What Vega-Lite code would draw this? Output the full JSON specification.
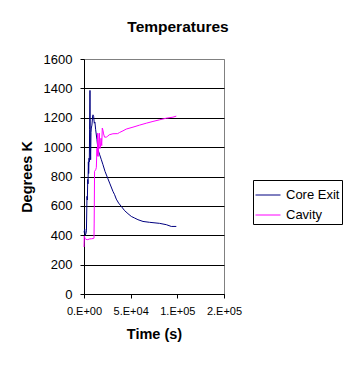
{
  "$schema": "https://vega.github.io/schema/vega-lite/v6.json",
  "autosize": "none",
  "width": 140,
  "height": 235,
  "padding": {"left": 84, "top": 59, "right": 133, "bottom": 86},
  "background": "white",
  "config": {
    "font": "Liberation Sans",
    "view": {"stroke": "#808080", "strokeWidth": 1}
  },
  "title": {
    "text": "Temperatures",
    "font": "Liberation Sans",
    "fontSize": 15.5,
    "fontWeight": "bold",
    "color": "black",
    "anchor": "middle",
    "frame": "group",
    "dx": 24,
    "offset": 18
  },
  "data": {
    "values": [
      {"t": 0, "v": 420, "s": "Core Exit"},
      {"t": 800, "v": 440, "s": "Core Exit"},
      {"t": 1200, "v": 400, "s": "Core Exit"},
      {"t": 2000, "v": 410, "s": "Core Exit"},
      {"t": 2600, "v": 430, "s": "Core Exit"},
      {"t": 3200, "v": 665, "s": "Core Exit"},
      {"t": 3600, "v": 640, "s": "Core Exit"},
      {"t": 4000, "v": 780, "s": "Core Exit"},
      {"t": 4300, "v": 750, "s": "Core Exit"},
      {"t": 4700, "v": 900, "s": "Core Exit"},
      {"t": 5000, "v": 820, "s": "Core Exit"},
      {"t": 5400, "v": 925, "s": "Core Exit"},
      {"t": 5700, "v": 900, "s": "Core Exit"},
      {"t": 6000, "v": 1118, "s": "Core Exit"},
      {"t": 6400, "v": 1386, "s": "Core Exit"},
      {"t": 6800, "v": 1000, "s": "Core Exit"},
      {"t": 7100, "v": 914, "s": "Core Exit"},
      {"t": 7500, "v": 1100, "s": "Core Exit"},
      {"t": 7850, "v": 1130, "s": "Core Exit"},
      {"t": 8500, "v": 1150, "s": "Core Exit"},
      {"t": 9300, "v": 1215, "s": "Core Exit"},
      {"t": 9600, "v": 1220, "s": "Core Exit"},
      {"t": 10300, "v": 1210, "s": "Core Exit"},
      {"t": 11000, "v": 1163, "s": "Core Exit"},
      {"t": 11700, "v": 1170, "s": "Core Exit"},
      {"t": 12500, "v": 1118, "s": "Core Exit"},
      {"t": 13900, "v": 1050, "s": "Core Exit"},
      {"t": 15000, "v": 982, "s": "Core Exit"},
      {"t": 16800, "v": 948, "s": "Core Exit"},
      {"t": 18600, "v": 914, "s": "Core Exit"},
      {"t": 20350, "v": 880, "s": "Core Exit"},
      {"t": 22500, "v": 835, "s": "Core Exit"},
      {"t": 25350, "v": 789, "s": "Core Exit"},
      {"t": 27500, "v": 755, "s": "Core Exit"},
      {"t": 31000, "v": 699, "s": "Core Exit"},
      {"t": 32800, "v": 676, "s": "Core Exit"},
      {"t": 34600, "v": 646, "s": "Core Exit"},
      {"t": 37100, "v": 619, "s": "Core Exit"},
      {"t": 40000, "v": 596, "s": "Core Exit"},
      {"t": 43600, "v": 567, "s": "Core Exit"},
      {"t": 47100, "v": 547, "s": "Core Exit"},
      {"t": 50700, "v": 528, "s": "Core Exit"},
      {"t": 54300, "v": 517, "s": "Core Exit"},
      {"t": 57800, "v": 506, "s": "Core Exit"},
      {"t": 63200, "v": 494, "s": "Core Exit"},
      {"t": 70300, "v": 488, "s": "Core Exit"},
      {"t": 81000, "v": 481, "s": "Core Exit"},
      {"t": 88200, "v": 472, "s": "Core Exit"},
      {"t": 93500, "v": 460, "s": "Core Exit"},
      {"t": 98900, "v": 460, "s": "Core Exit"},
      {"t": 0, "v": 320, "s": "Cavity"},
      {"t": 300, "v": 395, "s": "Cavity"},
      {"t": 1000, "v": 380, "s": "Cavity"},
      {"t": 2000, "v": 372, "s": "Cavity"},
      {"t": 4000, "v": 370, "s": "Cavity"},
      {"t": 6000, "v": 375, "s": "Cavity"},
      {"t": 8000, "v": 376, "s": "Cavity"},
      {"t": 10000, "v": 378, "s": "Cavity"},
      {"t": 10700, "v": 380, "s": "Cavity"},
      {"t": 10900, "v": 483, "s": "Cavity"},
      {"t": 11300, "v": 835, "s": "Cavity"},
      {"t": 12500, "v": 846, "s": "Cavity"},
      {"t": 13200, "v": 860, "s": "Cavity"},
      {"t": 13900, "v": 993, "s": "Cavity"},
      {"t": 14300, "v": 940, "s": "Cavity"},
      {"t": 14700, "v": 1095, "s": "Cavity"},
      {"t": 15100, "v": 936, "s": "Cavity"},
      {"t": 15500, "v": 1000, "s": "Cavity"},
      {"t": 16000, "v": 1050, "s": "Cavity"},
      {"t": 16500, "v": 1095, "s": "Cavity"},
      {"t": 17000, "v": 990, "s": "Cavity"},
      {"t": 17600, "v": 1000, "s": "Cavity"},
      {"t": 18200, "v": 1060, "s": "Cavity"},
      {"t": 19000, "v": 1010, "s": "Cavity"},
      {"t": 19600, "v": 1130, "s": "Cavity"},
      {"t": 20300, "v": 1115, "s": "Cavity"},
      {"t": 21000, "v": 1090, "s": "Cavity"},
      {"t": 22000, "v": 1068, "s": "Cavity"},
      {"t": 23900, "v": 1068, "s": "Cavity"},
      {"t": 25500, "v": 1075, "s": "Cavity"},
      {"t": 27000, "v": 1084, "s": "Cavity"},
      {"t": 31000, "v": 1091, "s": "Cavity"},
      {"t": 36000, "v": 1092, "s": "Cavity"},
      {"t": 38200, "v": 1100, "s": "Cavity"},
      {"t": 41800, "v": 1111, "s": "Cavity"},
      {"t": 45300, "v": 1123, "s": "Cavity"},
      {"t": 52500, "v": 1136, "s": "Cavity"},
      {"t": 59600, "v": 1150, "s": "Cavity"},
      {"t": 66800, "v": 1163, "s": "Cavity"},
      {"t": 73900, "v": 1175, "s": "Cavity"},
      {"t": 81000, "v": 1186, "s": "Cavity"},
      {"t": 88200, "v": 1197, "s": "Cavity"},
      {"t": 95300, "v": 1204, "s": "Cavity"},
      {"t": 98900, "v": 1211, "s": "Cavity"}
    ]
  },
  "mark": {"type": "line", "strokeWidth": 1, "interpolate": "linear"},
  "encoding": {
    "x": {
      "field": "t",
      "type": "quantitative",
      "scale": {"domain": [0, 150000], "nice": false},
      "axis": {
        "values": [0, 50000, 100000, 150000],
        "labelExpr": "replace(format(datum.value, '.0e'), 'e+', '.E+0')",
        "labelOverlap": false,
        "labelBound": false,
        "labelFlush": false,
        "title": "Time (s)",
        "grid": false,
        "domainColor": "black",
        "tickColor": "black",
        "tickSize": 4,
        "labelPadding": 7,
        "labelFont": "Liberation Sans",
        "labelFontSize": 11,
        "labelColor": "black",
        "titleFont": "Liberation Sans",
        "titleFontSize": 14.5,
        "titleFontWeight": "bold",
        "titleColor": "black",
        "titlePadding": 11
      }
    },
    "y": {
      "field": "v",
      "type": "quantitative",
      "scale": {"domain": [0, 1600], "nice": false},
      "axis": {
        "values": [0, 200, 400, 600, 800, 1000, 1200, 1400, 1600],
        "format": "d",
        "labelOverlap": false,
        "labelFlush": false,
        "title": "Degrees K",
        "grid": true,
        "gridColor": {"condition": {"test": "datum.value == 1600", "value": "#808080"}, "value": "black"},
        "gridOpacity": 1,
        "gridWidth": 1,
        "domainColor": "black",
        "tickColor": "black",
        "tickSize": 4,
        "labelPadding": 8,
        "labelFont": "Liberation Sans",
        "labelFontSize": 13,
        "labelColor": "black",
        "titleFont": "Liberation Sans",
        "titleFontSize": 14.5,
        "titleFontWeight": "bold",
        "titleColor": "black",
        "titlePadding": 9
      }
    },
    "color": {
      "field": "s",
      "type": "nominal",
      "scale": {"domain": ["Core Exit", "Cavity"], "range": ["#000080", "#FF00FF"]},
      "legend": {
        "title": null,
        "orient": "none",
        "legendX": 169,
        "legendY": 121,
        "symbolType": "stroke",
        "symbolSize": 625,
        "symbolStrokeWidth": 1,
        "rowPadding": -5,
        "labelFont": "Liberation Sans",
        "labelFontSize": 13,
        "labelColor": "black",
        "labelOffset": 5,
        "strokeColor": "black",
        "padding": 2
      }
    }
  }
}
